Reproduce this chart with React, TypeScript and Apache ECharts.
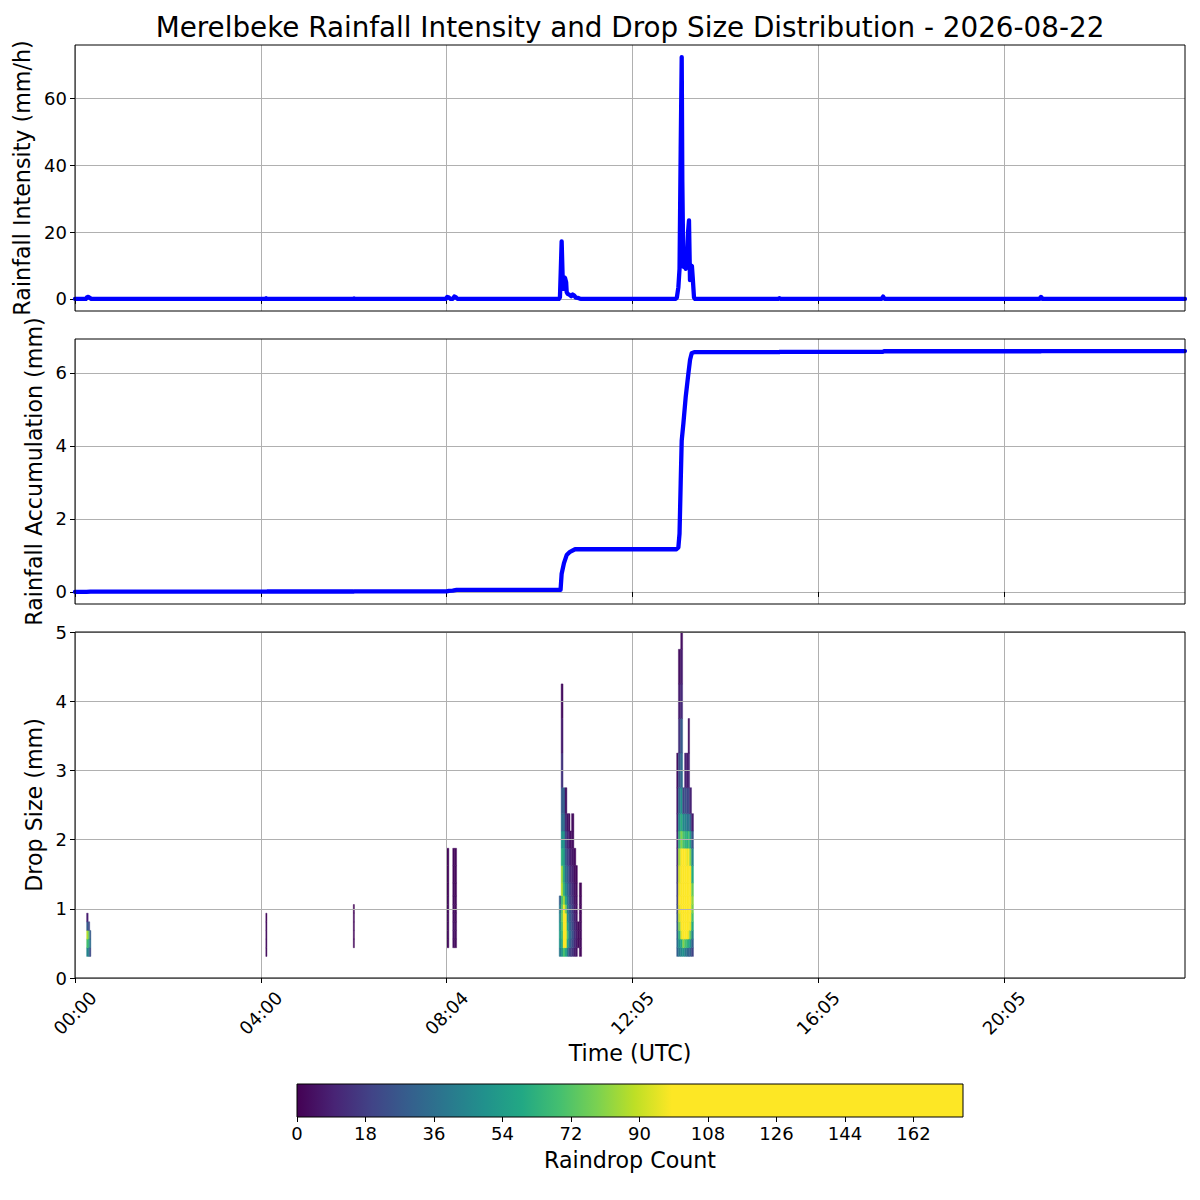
import React, { useEffect, useRef } from "react";
import * as echarts from "echarts";

const FONT = "DejaVu Sans";

// ---------- x axis (sample index, labelled with UTC time) ----------
const xMax = 1434;
const xTickValues = [0, 240, 480, 720, 960, 1200];
const xTickLabels = ["00:00", "04:00", "08:04", "12:05", "16:05", "20:05"];

// ---------- rainfall intensity (mm/h) ----------
const intensityPoints: [number, number][] = [
  [0, 0], [14, 0], [15.5, 0.5], [17, 0.6], [19, 0.3], [21, 0],
  [246, 0], [247, 0.2], [248.5, 0],
  [359, 0], [360.5, 0.15], [362, 0],
  [479, 0], [481, 0.6], [483, 0.4], [485, 0], [488, 0], [490, 0.7], [492, 0.5], [494, 0],
  [625, 0], [626.5, 0.5], [627.5, 8], [628.7, 17.2], [629.8, 8], [630.5, 3], [631.5, 6], [633, 6.3],
  [634.5, 5], [635.2, 2], [636.5, 1.5], [639, 1.2], [641, 0.8], [643, 1.3], [645, 1.0], [647, 0.4],
  [650, 0.3], [652, 0.1], [654, 0],
  [776, 0], [777.5, 0.4], [779.5, 3.5], [781, 9], [782.5, 45], [783.8, 72.3], [784.6, 35], [785.9, 9.6],
  [787.2, 11.6], [789, 9], [790.5, 12], [792, 20], [793.2, 23.5], [794.5, 5.6], [796, 9.6], [797, 9.8],
  [798, 6.5], [799.7, 0.4], [801, 0],
  [908, 0], [910, 0.2], [912, 0],
  [1042, 0], [1044, 0.7], [1046, 0],
  [1246, 0], [1248, 0.6], [1250, 0],
  [1434, 0],
];
const intensityMin = -3.615;
const intensityMax = 75.915;
const intensityTicks = [0, 20, 40, 60];

// ---------- rainfall accumulation (mm) ----------
const accumulationPoints: [number, number][] = [
  [0, 0], [15, 0], [20, 0.01], [247, 0.01], [248, 0.012], [360, 0.012], [361, 0.014],
  [480, 0.014], [483, 0.03], [488, 0.035], [493, 0.055], [627.3, 0.055], [628.7, 0.5],
  [631.7, 0.79], [635.2, 1.01], [639.5, 1.1], [646, 1.17], [777, 1.17], [779.5, 1.22],
  [781, 1.6], [782.5, 3.0], [783.8, 4.15], [786, 4.62], [789, 5.35], [792.5, 6.0],
  [794.6, 6.36], [796.7, 6.54], [800, 6.57], [910, 6.57], [911, 6.58], [1044, 6.58],
  [1045, 6.595], [1248, 6.595], [1249, 6.6], [1434, 6.6],
];
const accumulationMin = -0.33;
const accumulationMax = 6.93;
const accumulationTicks = [0, 2, 4, 6];

// ---------- drop size distribution ----------
const dropSizeEdges = [
  0.312, 0.437, 0.562, 0.687, 0.812, 0.937, 1.062, 1.187, 1.375, 1.625,
  1.875, 2.125, 2.375, 2.75, 3.25, 3.75, 4.25, 4.75, 5.5,
];
const dropSizeTicks = [0, 1, 2, 3, 4, 5];
const dsdStart = [
  15, 17, 19,
  246.5,
  359.5,
  480.5, 488, 490.5,
  625.5, 628, 630.5, 633, 635.5, 637.5, 639.5, 641.5, 644.5, 647, 649, 651.5,
  777.3, 779.5, 782.5, 785, 787.5, 790, 792, 794, 796.5,
];
const dsdEnd = [
  17, 19, 20.5,
  248,
  361,
  483, 490.5, 493,
  628, 630.5, 633, 635.5, 637.5, 639.5, 641.5, 644.5, 647, 649, 651.5, 654.5,
  779.5, 782.5, 785, 787.5, 790, 792, 794, 796.5, 799,
];
const dsdCounts: number[][] = [
  [45, 70, 88, 30, 8],
  [40, 62, 75, 22],
  [22, 35, 28],
  [3, 4, 4, 3, 2],
  [0, 2, 2, 2, 2, 1],
  [0, 3, 4, 4, 4, 3, 3, 2, 2, 2],
  [0, 4, 5, 5, 4, 4, 3, 3, 2, 2],
  [0, 3, 4, 4, 3, 3, 3, 2, 2, 2],
  [40, 50, 55, 50, 45, 40, 30],
  [50, 60, 65, 70, 75, 72, 68, 88, 84, 62, 50, 35, 28, 15, 8, 4],
  [70, 115, 135, 125, 110, 100, 85, 65, 60, 55, 50, 35, 30],
  [60, 105, 125, 115, 100, 80, 60, 45, 35, 28, 20, 12, 5],
  [40, 60, 70, 60, 50, 45, 40, 35, 30, 20, 12, 6],
  [25, 40, 45, 40, 35, 30, 28, 25, 20, 15, 8, 4],
  [20, 30, 35, 30, 28, 25, 20, 18, 12, 8, 4],
  [15, 22, 25, 22, 20, 18, 15, 12, 10, 6, 4, 3],
  [8, 12, 14, 12, 10, 8, 6, 5, 4, 3],
  [5, 8, 9, 8, 6, 5, 4, 3, 2],
  [0, 3, 4, 3],
  [2, 3, 3, 3, 2, 2, 2, 1],
  [30, 35, 30, 28, 25, 22, 20, 18, 15, 12, 10, 8, 5, 3],
  [40, 50, 65, 80, 90, 95, 98, 96, 92, 85, 65, 48, 35, 25, 15, 8, 4],
  [45, 60, 95, 130, 160, 170, 160, 140, 120, 105, 80, 62, 50, 35, 28, 12, 8, 4],
  [50, 80, 110, 145, 160, 150, 130, 115, 108, 100, 70, 45, 20],
  [40, 70, 105, 125, 140, 130, 120, 110, 105, 100, 65, 45, 25, 10],
  [35, 65, 100, 115, 130, 125, 115, 108, 102, 95, 60, 38, 20, 8],
  [30, 60, 95, 105, 120, 125, 120, 112, 105, 100, 70, 40, 22, 10, 5],
  [30, 50, 75, 95, 105, 110, 115, 108, 100, 80, 55, 30, 10],
  [20, 30, 45, 60, 70, 78, 82, 75, 60, 45, 25, 8],
];

// ---------- colour bar ----------
const cbMax = 175;
const cbSaturation = 98.5;
const cbTicks = [0, 18, 36, 54, 72, 90, 108, 126, 144, 162];
const viridis = [
  "#440154", "#482475", "#414487", "#355f8d", "#2a788e", "#21918c",
  "#22a884", "#44bf70", "#7ad151", "#bddf26", "#fde725",
];

function hexRgb(h: string) {
  return [parseInt(h.slice(1, 3), 16), parseInt(h.slice(3, 5), 16), parseInt(h.slice(5, 7), 16)];
}
function countColor(c: number) {
  const t = Math.max(0, Math.min(c / cbSaturation, 1));
  const pos = t * (viridis.length - 1);
  const i = Math.min(Math.floor(pos), viridis.length - 2);
  const f = pos - i;
  const a = hexRgb(viridis[i]);
  const b = hexRgb(viridis[i + 1]);
  const r = a.map((v, k) => Math.round(v + (b[k] - v) * f));
  return `rgb(${r[0]},${r[1]},${r[2]})`;
}

const heatCells: number[][] = [];
dsdCounts.forEach((col, ci) => {
  col.forEach((cnt, bi) => {
    if (cnt > 0) heatCells.push([dsdStart[ci], dsdEnd[ci], dropSizeEdges[bi], dropSizeEdges[bi + 1], cnt]);
  });
});

const tickLabelStyle = { fontSize: 18, color: "#000", fontFamily: FONT };
const nameStyle = { fontSize: 22.2, color: "#000", fontFamily: FONT };
const splitStyle = { show: true, lineStyle: { color: "#b0b0b0", width: 1 } };

function xAxisFor(gridIndex: number, showLabels: boolean) {
  return {
    type: "value",
    gridIndex,
    min: 0,
    max: xMax,
    interval: 240,
    axisLine: { show: false },
    axisTick: { show: true, length: 5, customValues: xTickValues, lineStyle: { color: "#000", width: 1 } },
    axisLabel: {
      show: showLabels,
      customValues: xTickValues,
      formatter: (v: number) => {
        const k = xTickValues.indexOf(v);
        return k >= 0 ? xTickLabels[k] : "";
      },
      rotate: 45,
      align: "center",
      verticalAlign: "middle",
      margin: 35,
      ...tickLabelStyle,
    },
    splitLine: splitStyle,
    name: showLabels ? "Time (UTC)" : "",
    nameLocation: "middle",
    nameGap: 64,
    nameTextStyle: nameStyle,
  };
}

function yAxisFor(gridIndex: number, min: number, max: number, ticks: number[], name: string, gap: number, splitNumber: number) {
  return {
    type: "value",
    gridIndex,
    min,
    max,
    splitNumber,
    axisLine: { show: false },
    axisTick: { show: true, length: 5, customValues: ticks, lineStyle: { color: "#000", width: 1 } },
    axisLabel: {
      customValues: ticks,
      formatter: (v: number) => (ticks.indexOf(v) >= 0 ? String(v) : ""),
      margin: 8,
      ...tickLabelStyle,
    },
    splitLine: splitStyle,
    name,
    nameLocation: "middle",
    nameGap: gap,
    nameTextStyle: nameStyle,
  };
}

const gridBase = { show: true, borderColor: "#000", borderWidth: 1, backgroundColor: "transparent", z: 5 };

const lineStyle = { color: "#0000ff", width: 4.3, join: "round", cap: "round" };

const option: any = {
  animation: false,
  backgroundColor: "#fff",
  textStyle: { fontFamily: FONT },
  graphic: [
    {
      type: "text",
      x: 630,
      y: 27,
      style: {
        text: "Merelbeke Rainfall Intensity and Drop Size Distribution - 2026-08-22",
        fontSize: 27.8,
        fontFamily: FONT,
        fill: "#000",
        textAlign: "center",
        textVerticalAlign: "middle",
      },
    },
  ],
  grid: [
    { ...gridBase, left: 75, top: 45, width: 1110, height: 266 },
    { ...gridBase, left: 75, top: 339, width: 1110, height: 265 },
    { ...gridBase, left: 75, top: 632, width: 1110, height: 346 },
    { ...gridBase, left: 297, top: 1084, width: 666, height: 33 },
  ],
  xAxis: [
    xAxisFor(0, false),
    xAxisFor(1, false),
    xAxisFor(2, true),
    {
      type: "value",
      gridIndex: 3,
      min: 0,
      max: cbMax,
      interval: 18,
      axisLine: { show: false },
      axisTick: { show: true, length: 5, customValues: cbTicks, lineStyle: { color: "#000", width: 1 } },
      axisLabel: {
        customValues: cbTicks,
        formatter: (v: number) => (cbTicks.indexOf(v) >= 0 ? String(v) : ""),
        margin: 7,
        ...tickLabelStyle,
      },
      splitLine: { show: false },
      name: "Raindrop Count",
      nameLocation: "middle",
      nameGap: 32,
      nameTextStyle: nameStyle,
    },
  ],
  yAxis: [
    yAxisFor(0, intensityMin, intensityMax, intensityTicks, "Rainfall Intensity (mm/h)", 40, 4),
    yAxisFor(1, accumulationMin, accumulationMax, accumulationTicks, "Rainfall Accumulation (mm)", 27, 3),
    { ...yAxisFor(2, 0, 5, dropSizeTicks, "Drop Size (mm)", 27, 5), interval: 1 },
    { type: "value", gridIndex: 3, min: 0, max: 1, show: false },
  ],
  series: [
    {
      type: "line",
      xAxisIndex: 0,
      yAxisIndex: 0,
      data: intensityPoints,
      showSymbol: false,
      symbol: "none",
      lineStyle,
      silent: true,
    },
    {
      type: "line",
      xAxisIndex: 1,
      yAxisIndex: 1,
      data: accumulationPoints,
      showSymbol: false,
      symbol: "none",
      lineStyle,
      silent: true,
    },
    {
      type: "custom",
      xAxisIndex: 2,
      yAxisIndex: 2,
      z: -1,
      silent: true,
      data: heatCells,
      encode: { x: [0, 1], y: [2, 3] },
      renderItem: (params: any, api: any) => {
        const p0 = api.coord([api.value(0), api.value(3)]);
        const p1 = api.coord([api.value(1), api.value(2)]);
        const cs = params.coordSys;
        const shape = echarts.graphic.clipRectByRect(
          { x: p0[0], y: p0[1], width: p1[0] - p0[0], height: p1[1] - p0[1] },
          { x: cs.x, y: cs.y, width: cs.width, height: cs.height }
        );
        if (!shape) return null;
        const col = countColor(api.value(4));
        return { type: "rect", shape, style: { fill: col, stroke: col, lineWidth: 0.4 } };
      },
    },
    {
      type: "custom",
      xAxisIndex: 3,
      yAxisIndex: 3,
      silent: true,
      data: [[0, cbMax]],
      encode: { x: [0, 1] },
      renderItem: (params: any, api: any) => {
        const p0 = api.coord([api.value(0), 1]);
        const p1 = api.coord([api.value(1), 0]);
        const stops = viridis.map((c, i) => ({
          offset: ((i / (viridis.length - 1)) * cbSaturation) / cbMax,
          color: c,
        }));
        stops.push({ offset: 1, color: viridis[viridis.length - 1] });
        return {
          type: "rect",
          shape: { x: p0[0], y: p0[1], width: p1[0] - p0[0], height: p1[1] - p0[1] },
          style: { fill: new echarts.graphic.LinearGradient(0, 0, 1, 0, stops) },
        };
      },
    },
  ],
};

export default function App() {
  const ref = useRef<HTMLDivElement>(null);
  useEffect(() => {
    document.body.style.margin = "0";
    const chart = echarts.init(ref.current as HTMLDivElement, null, { renderer: "svg" });
    chart.setOption(option);
    return () => chart.dispose();
  }, []);
  return <div ref={ref} style={{ width: 1200, height: 1200 }} />;
}
